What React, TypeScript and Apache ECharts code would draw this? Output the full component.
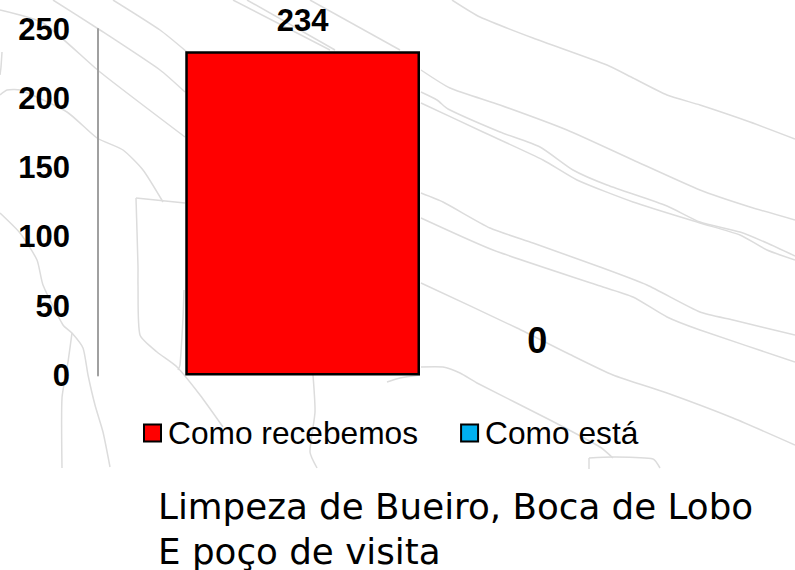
import React, { useEffect, useRef } from "react";
import * as echarts from "echarts";

const categories = ["Limpeza"];
const recebemos = [234];
const esta = [0];
const yMax = 250;
const yStep = 50;
const titleLine1 = "Limpeza de Bueiro, Boca de Lobo";
const titleLine2 = "E poço de visita";

const contours: number[][][] = [
  [[53,0],[100,30],[160,70],[185,92]],
  [[0,10],[43,23],[100,72],[185,137]],
  [[113,0],[160,30],[187,52]],
  [[233,0],[330,50]],
  [[247,0],[335,50]],
  [[310,0],[400,50]],
  [[0,95],[7,90],[20,90],[67,112],[97,138],[123,150],[143,170],[163,202]],
  [[2,52],[1,67],[0,75]],
  [[0,213],[20,233],[37,260],[43,285],[63,325],[72,333],[83,348],[88,375],[95,405],[103,432],[110,467]],
  [[72,333],[68,362],[62,398],[62,468]],
  [[185,203],[136,198]],
  [[136,198],[138,267],[138,285],[140,335],[157,352],[177,367],[200,395],[223,427]],
  [[184,290],[183,318],[180,365],[178,370]],
  [[313,375],[315,412],[310,452],[317,468]],
  [[387,382],[400,378],[420,375]],
  [[452,0],[480,17],[533,38],[607,65],[633,78],[667,95],[700,105],[750,122],[795,139]],
  [[421,70],[450,88],[500,105],[567,130],[633,160],[700,190],[750,207],[795,220]],
  [[421,92],[437,100],[448,109],[500,132],[540,147],[573,170],[607,185],[667,206],[700,222],[740,232],[767,243],[795,256]],
  [[421,103],[483,132],[543,160],[577,180],[633,202],[700,223],[740,235],[767,250],[795,260]],
  [[421,193],[443,202],[490,228],[533,243],[600,267],[647,285],[700,312],[733,320],[795,335]],
  [[421,218],[493,250],[597,285],[633,297],[667,317],[700,330],[795,362]],
  [[421,283],[517,328],[567,353],[613,375],[667,393],[733,418],[795,445]],
  [[421,367],[443,367],[460,373],[477,383],[550,420],[600,447],[613,458]],
  [[589,469],[589,458]],
  [[589,458],[613,457],[653,459],[660,468]],
];

export default function App() {
  const ref = useRef<HTMLDivElement>(null);
  useEffect(() => {
    const chart = echarts.init(ref.current!, undefined, { renderer: "svg" });
    const font = "'Liberation Sans', Arial, sans-serif";
    chart.setOption({
      animation: false,
      backgroundColor: "#fff",
      title: {
        text: titleLine1,
        subtext: titleLine2,
        left: 158,
        top: 484,
        padding: 0,
        itemGap: 4,
        textStyle: { fontFamily: "'DejaVu Sans'", fontSize: 35.7, fontWeight: "normal", color: "#000", lineHeight: 45 },
        subtextStyle: { fontFamily: "'DejaVu Sans'", fontSize: 35.7, fontWeight: "normal", color: "#000", lineHeight: 37 },
      },
      legend: {
        left: 143,
        top: 417,
        padding: 0,
        icon: "rect",
        itemWidth: 17,
        itemHeight: 17,
        itemGap: 42,
        textStyle: { fontFamily: font, fontSize: 31.7, color: "#000", padding: [0, 0, 0, 2] },
        data: [
          { name: "Como recebemos", itemStyle: { borderColor: "#000", borderWidth: 2 } },
          { name: "Como está", itemStyle: { borderColor: "#000", borderWidth: 2 } },
        ],
      },
      grid: { left: 98, right: 53, top: 29, height: 346.5 },
      xAxis: {
        type: "category",
        data: categories,
        axisLine: { show: false },
        axisTick: { show: false },
        axisLabel: { show: false },
      },
      yAxis: {
        type: "value",
        min: 0,
        max: yMax,
        interval: yStep,
        splitLine: { show: false },
        axisTick: { show: false },
        axisLine: { show: true, lineStyle: { color: "#a0a0a0", width: 2 } },
        axisLabel: { margin: 28, fontFamily: font, fontSize: 31, fontWeight: "bold", color: "#000" },
      },
      series: [
        {
          name: "Como recebemos",
          type: "bar",
          data: recebemos,
          barGap: 0,
          barCategoryGap: "27.1%",
          itemStyle: { color: "#ff0000", borderColor: "#000", borderWidth: 2.5 },
          label: { show: true, position: "top", distance: 15, fontFamily: font, fontSize: 31, fontWeight: "bold", color: "#000" },
        },
        {
          name: "Como está",
          type: "bar",
          data: esta,
          itemStyle: { color: "#00b0f0", borderWidth: 0 },
          label: { show: true, position: "top", distance: 17, fontFamily: font, fontSize: 36, fontWeight: "bold", color: "#000" },
        },
      ],
      graphic: contours.map((points) => ({
        type: "polyline",
        silent: true,
        z: -1,
        shape: { points, smooth: 0.2 },
        style: { stroke: "#dcdcdc", lineWidth: 1.5, fill: "none" },
      })),
    });
    return () => chart.dispose();
  }, []);
  return <div ref={ref} style={{ position: "absolute", left: 0, top: 0, width: 795, height: 570 }} />;
}
